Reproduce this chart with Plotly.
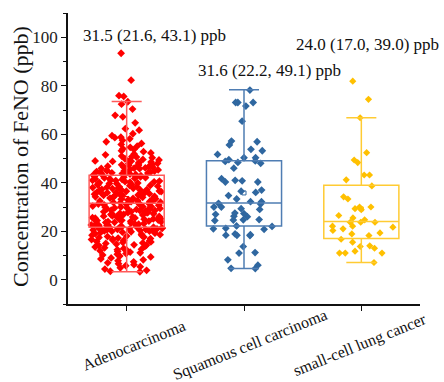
import plotly.graph_objects as go

categories = ["Adenocarcinoma", "Squamous cell carcinoma", "small-cell lung cancer"]

adeno = [
    93.4, 82.3, 75.9, 75.6, 73.4, 72.4, 70.4, 67.8, 67.2, 64.7,
    62.3, 61.7, 60.2, 59.4, 58.8, 58.6, 58.1, 57.5, 56.9, 56.2,
    55.8, 55.1, 54.6, 54.0, 53.7, 53.2, 52.8, 52.3, 51.9, 51.5,
    51.0, 50.6, 50.3, 49.9, 49.6, 49.2, 48.9, 48.6, 48.3, 48.0,
    47.7, 47.4, 47.1, 46.8, 46.6, 46.3, 46.0, 45.8, 45.5, 45.3,
    45.0, 44.8, 44.6, 44.4, 44.2, 44.0, 43.8, 43.6, 43.4, 43.2,
    49.4, 48.8, 47.9, 47.2, 46.5, 45.9, 45.1, 44.7, 44.1, 43.5,
    50.8, 49.0, 47.5, 46.1, 44.9,
    42.9, 42.6, 42.3, 42.1, 41.8, 41.5, 41.3, 41.0, 40.7, 40.5,
    40.2, 39.9, 39.7, 39.4, 39.1, 38.9, 38.6, 38.4, 38.1, 37.8,
    37.6, 37.3, 37.1, 36.8, 36.5, 36.3, 36.0, 35.8, 35.5, 35.2,
    35.0, 34.7, 34.5, 34.2, 34.0, 33.7, 33.5, 33.2, 33.0, 32.7,
    32.5, 32.2, 32.0, 31.8, 31.6, 42.8, 42.0, 41.1, 40.4, 39.6,
    38.8, 38.0, 37.2, 36.6, 35.9, 35.3, 34.8, 34.1, 33.4, 32.9,
    32.3, 31.9, 41.6, 40.0, 38.3, 36.9, 35.6, 34.4, 33.1, 37.7,
    39.2, 40.9, 42.4, 36.1, 34.9,
    31.4, 31.1, 30.9, 30.6, 30.4, 30.1, 29.9, 29.6, 29.4, 29.1,
    28.9, 28.6, 28.4, 28.1, 27.9, 27.6, 27.4, 27.1, 26.9, 26.6,
    26.4, 26.1, 25.9, 25.6, 25.4, 25.1, 24.9, 24.6, 24.4, 24.1,
    23.9, 23.6, 23.4, 23.1, 22.9, 22.6, 22.4, 22.1, 21.9, 21.7,
    31.2, 30.7, 30.2, 29.7, 29.2, 28.7, 28.2, 27.7, 27.2, 26.7,
    26.2, 25.7, 25.2, 24.7, 24.2, 23.7, 23.2, 22.7, 22.2, 21.8,
    30.0, 28.0, 26.0, 24.0, 22.0, 29.0, 27.0, 25.0, 23.0, 21.7,
    31.0, 28.5, 25.5, 22.5, 24.5,
    21.4, 21.2, 21.0, 20.9, 20.7, 20.5, 20.4, 20.2, 20.0, 20.8,
    21.1, 20.6, 20.3, 20.1, 21.3,
    19.8, 19.6, 19.4, 19.2, 19.0, 18.8, 18.6, 18.4, 18.2, 18.0,
    17.8, 17.6, 17.4, 17.2, 17.0, 16.8, 16.6, 16.4, 16.2, 16.0,
    15.8, 15.6, 15.4, 15.2, 15.0,
    14.7, 14.4, 14.1, 13.8, 13.5, 13.2, 12.9, 12.6, 12.3, 12.0,
    11.7, 11.4, 11.1, 10.8, 10.5, 10.2, 14.2, 12.4,
    9.8, 9.4, 9.0, 8.6, 8.2, 7.8, 7.4, 7.0, 6.6, 6.2, 5.8, 5.4,
    4.9, 4.4, 3.9, 3.5, 3.3,
]

squamous = [
    78.2, 73.1, 73.1, 73.1, 71.6, 65.4, 56.9, 57.2, 55.6, 53.8,
    53.2, 51.7, 50.3, 50.3, 48.8, 49.0, 49.5, 48.4, 48.0, 46.0,
    41.7, 40.8, 41.0, 40.3, 40.3, 37.0, 36.5, 36.0, 34.7, 33.3,
    32.2, 32.2, 31.5, 31.2, 30.0, 30.0, 29.3, 29.0, 27.5, 27.3,
    27.0, 26.0, 26.2, 24.7, 24.6, 24.8, 24.4, 22.2, 22.0, 21.0,
    21.2, 20.8, 18.6, 18.9, 18.3, 18.4, 18.2, 13.7, 11.2, 11.0,
    8.2, 6.0, 4.6, 4.7,
]

sclc = [
    81.9, 74.4, 66.8, 52.4, 49.4, 48.3, 43.2, 43.2, 41.2, 38.7,
    34.2, 33.3, 30.0, 30.0, 29.3, 28.9, 26.5, 25.5, 24.7, 23.7,
    23.7, 23.7, 22.1, 22.1, 21.7, 21.0, 20.3, 19.3, 18.9, 18.2,
    16.7, 15.5, 14.0, 13.7, 13.0, 11.8, 11.0, 11.0, 11.0, 7.1,
]

q1 = [21.6, 22.2, 17.0]
median = [31.5, 31.6, 24.0]
q3 = [43.1, 49.1, 39.0]
lower_whisker = [3.3, 4.6, 7.1]
upper_whisker = [73.5, 78.3, 66.8]
means = [33.5, 35.8, 29.2]
labels = ["31.5 (21.6, 43.1) ppb", "31.6 (22.2, 49.1) ppb", "24.0 (17.0, 39.0) ppb"]

point_colors = ["#FF0000", "#2F67A0", "#FFC000"]
box_colors = ["#FF5A5A", "#4F7DB3", "#FFCB33"]
point_sizes = [6, 6, 5.5]

series = [adeno, squamous, sclc]
FONT = "Liberation Serif"

fig = go.Figure()
for i, cat in enumerate(categories):
    fig.add_trace(go.Box(
        x=[cat] * len(series[i]), y=series[i],
        boxpoints="all", jitter=0.95, pointpos=0,
        fillcolor="rgba(0,0,0,0)", line=dict(width=0, color="rgba(0,0,0,0)"),
        marker=dict(symbol="diamond", size=point_sizes[i], color=point_colors[i]),
        width=0.64, hoverinfo="skip", showlegend=False,
    ))
    fig.add_trace(go.Box(
        x=[cat], q1=[q1[i]], median=[median[i]], q3=[q3[i]],
        lowerfence=[lower_whisker[i]], upperfence=[upper_whisker[i]],
        boxpoints=False, fillcolor="rgba(0,0,0,0)",
        line=dict(width=1.5, color=box_colors[i]),
        whiskerwidth=0.4, width=0.64, showlegend=False,
    ))
    fig.add_trace(go.Scatter(
        x=[cat], y=[means[i]], mode="markers",
        marker=dict(symbol="square-open", size=4, color=point_colors[i], line=dict(width=1)),
        showlegend=False, hoverinfo="skip",
    ))

ann = []
label_x = [0.24, 1.22, 2.05]
label_y = [100.8, 86.4, 97.1]
for i in range(3):
    ann.append(dict(x=label_x[i], y=label_y[i], xref="x", yref="y", text=labels[i],
                    showarrow=False, font=dict(family=FONT, size=17, color="#111"),
                    xanchor="center", yanchor="middle"))

cat_label_x = [133, 250, 360]
for i, cat in enumerate(categories):
    ann.append(dict(x=(cat_label_x[i] - 68) / 352, y=(304 - 345) / 291, xref="paper", yref="paper",
                    text=cat, showarrow=False, textangle=-22,
                    font=dict(family=FONT, size=16, color="#111"),
                    xanchor="center", yanchor="middle"))

ann.append(dict(x=(20 - 68) / 352, y=0.505, xref="paper", yref="paper",
                text="Concentration of FeNO (ppb)", showarrow=False, textangle=-90,
                font=dict(family=FONT, size=22, color="#111"),
                xanchor="center", yanchor="middle"))

fig.update_layout(
    width=444, height=382,
    margin=dict(l=68, r=24, t=13, b=78),
    paper_bgcolor="white", plot_bgcolor="white",
    boxmode="overlay", showlegend=False,
    font=dict(family=FONT),
    annotations=ann,
    xaxis=dict(type="category", categoryorder="array", categoryarray=categories,
               range=[-0.5, 2.5], showline=True, linecolor="#111", linewidth=1.5,
               ticks="outside", ticklen=5, tickcolor="#111", tickwidth=1.2,
               showticklabels=False, showgrid=False, zeroline=False),
    yaxis=dict(range=[-10, 110], tickvals=[0, 20, 40, 60, 80, 100],
               showline=True, linecolor="#111", linewidth=1.5,
               ticks="outside", ticklen=5, tickcolor="#111", tickwidth=1.2,
               minor=dict(tickvals=[-10, 10, 30, 50, 70, 90, 110], ticks="outside", ticklen=3, tickcolor="#111"),
               tickfont=dict(family=FONT, size=17, color="#222"),
               showgrid=False, zeroline=False),
)

fig.write_html("out.html")
